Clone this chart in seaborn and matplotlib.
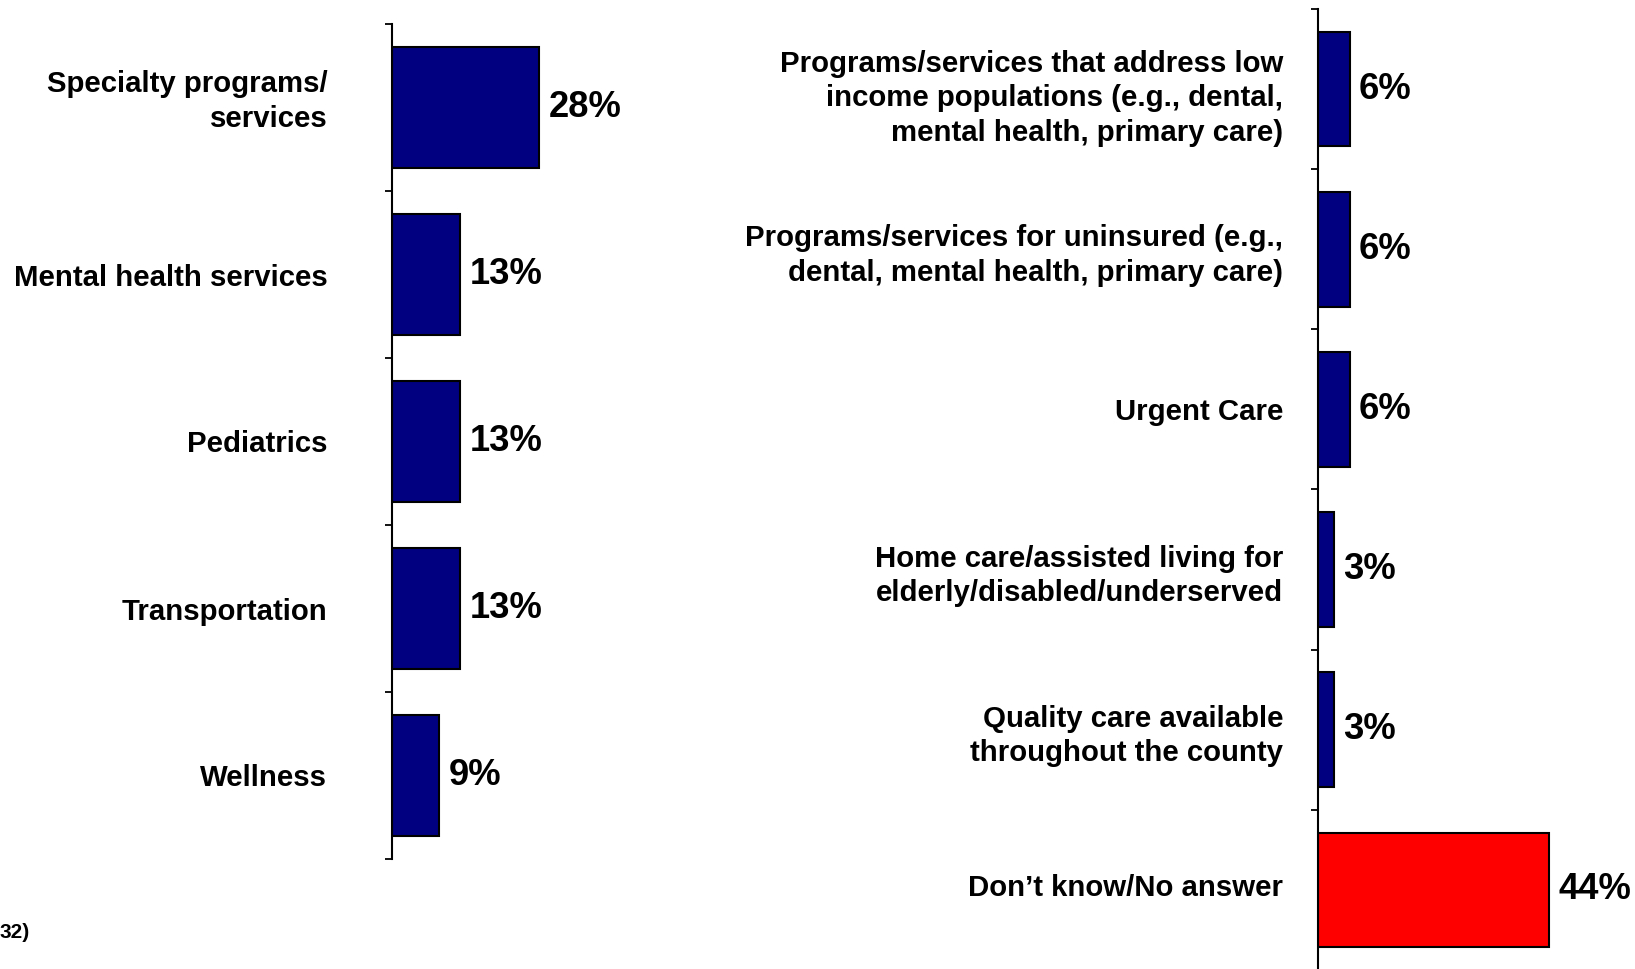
import matplotlib
matplotlib.use("Agg")
import matplotlib.pyplot as plt
import matplotlib.transforms as mtransforms
import seaborn as sns
import pandas as pd
import numpy as np

left_categories = ["Specialty programs/\nservices", "Mental health services",
                   "Pediatrics", "Transportation", "Wellness"]
left_values = [28, 13, 13, 13, 9]

right_categories = ["Programs/services that address low\nincome populations (e.g., dental,\nmental health, primary care)",
                    "Programs/services for uninsured (e.g.,\ndental, mental health, primary care)",
                    "Urgent Care",
                    "Home care/assisted living for\nelderly/disabled/underserved",
                    "Quality care available\nthroughout the county",
                    "Don\u2019t know/No answer"]
right_values = [6, 6, 6, 3, 3, 44]
right_colors = ["#000080", "#000080", "#000080", "#000080", "#000080", "#FF0000"]

footnote = "32)"

sns.set_theme(style="white")
plt.rcParams['font.family'] = ['Liberation Sans', 'DejaVu Sans']

W, H = 1635, 969
fig = plt.figure(figsize=(W / 100, H / 100), dpi=100)


def px_axes(x0, y0, x1, y1):
    return fig.add_axes([x0 / W, 1 - y1 / H, (x1 - x0) / W, (y1 - y0) / H])


PX_PER_PCT = 5.26


def draw(ax, cats, vals, colors, pad_pt, width):
    df = pd.DataFrame({"cat": cats, "val": vals})
    sns.barplot(data=df, x="val", y="cat", hue="cat", palette=colors, legend=False,
                orient="h", ax=ax, width=width, edgecolor="black", linewidth=1.5,
                saturation=1)
    n = len(cats)
    ax.set_ylim(n - 0.5, -0.5)
    ax.set_xlabel("")
    ax.set_ylabel("")
    ax.set_xticks([])
    for s in ["top", "right", "bottom"]:
        ax.spines[s].set_visible(False)
    ax.spines["left"].set_color("black")
    ax.spines["left"].set_linewidth(1.5)
    ax.set_yticks(np.arange(-0.5, n, 1.0), minor=True)
    ax.tick_params(axis="y", which="minor", left=True, length=5, width=1.3,
                   color="black", direction="out")
    ax.tick_params(axis="y", which="major", length=0, pad=pad_pt)
    for lab in ax.get_yticklabels():
        lab.set_fontsize(21.2)
        lab.set_fontweight("bold")
        lab.set_color("black")
        lab.set_linespacing(1.3)
    for i, v in enumerate(vals):
        ax.annotate(f"{v}%", xy=(v, i), xytext=(6.5, 0), textcoords="offset points",
                    ha="left", va="center", fontsize=26.2, fontweight="bold",
                    color="black")


def shift_label(ax, idx, dy_px):
    t = ax.yaxis.get_major_ticks()[idx].label1
    t.set_transform(t.get_transform() +
                    mtransforms.ScaledTranslation(0, dy_px / 100, fig.dpi_scale_trans))


axL = px_axes(392, 24, 392 + 300, 859)
axL.set_xlim(0, 300 / PX_PER_PCT)
draw(axL, left_categories, left_values, ["#000080"] * 5, 46.5, 0.72)
shift_label(axL, 0, 12)

axR = px_axes(1318, 9, 1318 + 317, 970)
axR.set_xlim(0, 317 / PX_PER_PCT)
draw(axR, right_categories, right_values, right_colors, 25, 0.715)
shift_label(axR, 0, -3)
shift_label(axR, 5, 5)

fig.text(0 / W, 1 - 932 / H, footnote, ha="left", va="center", fontsize=15,
         fontweight="bold", color="black")

fig.savefig("out.png", dpi=100)
